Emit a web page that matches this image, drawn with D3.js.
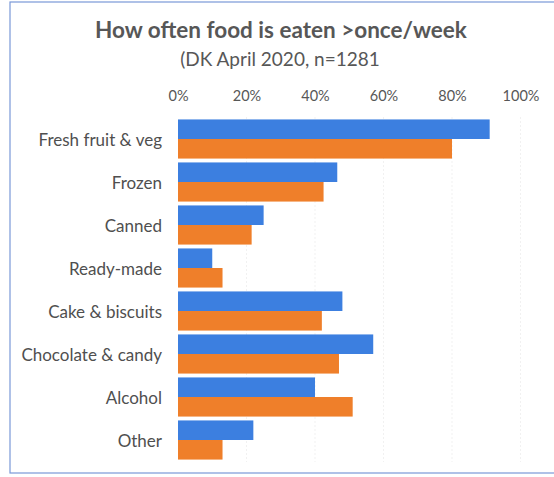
<!DOCTYPE html>
<html>
<head>
<meta charset="utf-8">
<script src="https://cdn.jsdelivr.net/npm/d3@7"></script>
<style>
  html, body { margin: 0; padding: 0; background: #fff; }
  svg { display: block; }
</style>
</head>
<body>
<svg id="chart" width="554" height="477"></svg>
<script>
// Share of respondents eating each food type more than once a week
const categories = ["Fresh fruit & veg", "Frozen", "Canned", "Ready-made",
  "Cake & biscuits", "Chocolate & candy", "Alcohol", "Other"];
const seriesA = [91, 46.5, 25, 10, 48, 57, 40, 22];   // blue bars
const seriesB = [80, 42.5, 21.5, 13, 42, 47, 51, 13];  // orange bars
const tickValues = [0, 20, 40, 60, 80, 100];
const colors = ["#3c7fe0", "#ef7f2a"];

const svg = d3.select("#chart");
const W = 554, H = 477;
const textColor = "#575757";
const font = "Lato, 'Open Sans', sans-serif";

// Frame
svg.append("rect")
  .attr("x", 10).attr("y", 2).attr("width", W + 10).attr("height", 471)
  .attr("fill", "#fff").attr("stroke", "#7a98d8").attr("stroke-width", 1.2);

const x = d3.scaleLinear().domain([0, 100]).range([178, 520.5]);
const y = d3.scaleBand().domain(categories).range([117.5, 461.5]).paddingInner(0.09).paddingOuter(0.045);
const ySub = d3.scaleBand().domain([0, 1]).range([0, y.bandwidth()]);

// Title and subtitle
svg.append("text")
  .attr("x", 281).attr("y", 38)
  .attr("text-anchor", "middle")
  .attr("font-family", font).attr("font-weight", "bold")
  .attr("font-size", 22.5).attr("fill", textColor)
  .text("How often food is eaten >once/week");

svg.append("text")
  .attr("x", 280).attr("y", 66)
  .attr("text-anchor", "middle")
  .attr("font-family", font)
  .attr("font-size", 19).attr("fill", textColor)
  .text("(DK April 2020, n=1281");

// Gridlines
svg.append("g")
  .selectAll("line")
  .data(tickValues.slice(1))
  .join("line")
  .attr("x1", d => x(d)).attr("x2", d => x(d))
  .attr("y1", 117).attr("y2", 462)
  .attr("stroke", "#f1f1f1").attr("stroke-width", 1)
  .attr("stroke-dasharray", "2,2");

// Top axis
const axis = d3.axisTop(x)
  .tickValues(tickValues)
  .tickFormat(d => d + "%")
  .tickSize(0).tickPadding(0);

const gAxis = svg.append("g").attr("transform", "translate(0,101)").call(axis);
gAxis.select(".domain").remove();
gAxis.selectAll("text")
  .attr("font-family", font).attr("font-size", 14.5)
  .attr("fill", textColor).attr("dy", 0);

// Category axis
const gCat = svg.append("g").attr("transform", "translate(162,2)")
  .call(d3.axisLeft(y).tickSize(0).tickPadding(0));
gCat.select(".domain").remove();
gCat.selectAll("text")
  .attr("font-family", font).attr("font-size", 17)
  .attr("fill", "#4f4f4f");

// Bars
const groups = svg.append("g")
  .selectAll("g")
  .data(categories.map((c, i) => ({ c, vals: [seriesA[i], seriesB[i]] })))
  .join("g")
  .attr("transform", d => `translate(0,${y(d.c)})`);

groups.selectAll("rect")
  .data(d => d.vals.map((v, j) => ({ v, j })))
  .join("rect")
  .attr("x", x(0))
  .attr("y", d => ySub(d.j))
  .attr("width", d => x(d.v) - x(0))
  .attr("height", ySub.bandwidth())
  .attr("fill", d => colors[d.j]);
</script>
</body>
</html>
